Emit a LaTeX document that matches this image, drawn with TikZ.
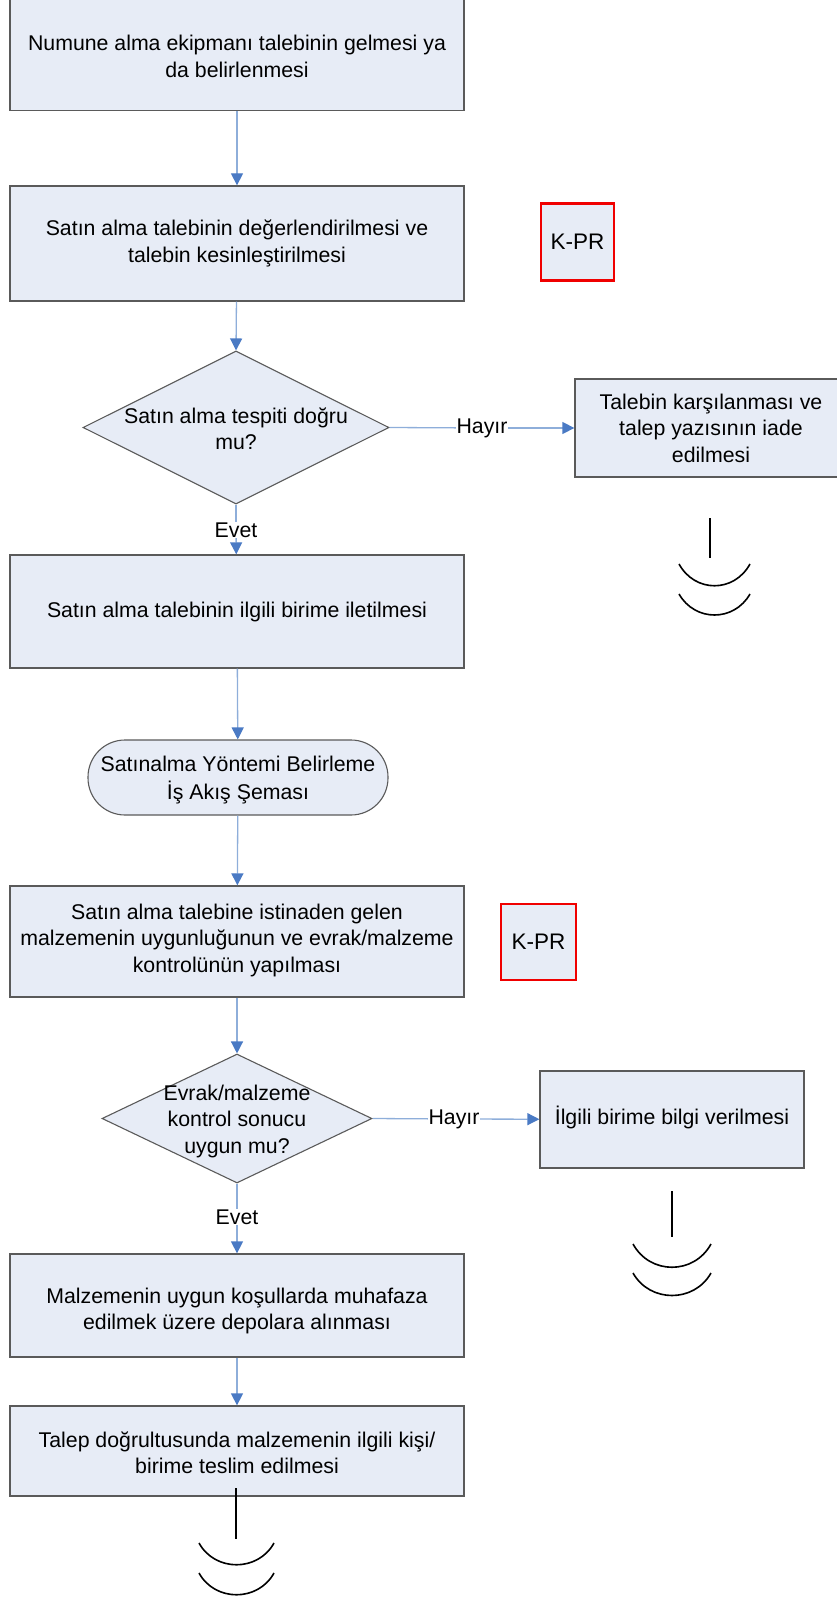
\documentclass[tikz,border=0pt]{standalone}
\usepackage{fontspec}
\setmainfont{Liberation Sans}
\usetikzlibrary{arrows.meta,shapes.geometric}
\definecolor{boxfill}{HTML}{E7ECF6}
\definecolor{boxline}{HTML}{5A5A5A}
\definecolor{linecol}{HTML}{8EAEDA}
\definecolor{arrowcol}{HTML}{4A7AC4}
\definecolor{kred}{HTML}{F00000}
\begin{document}
\begin{tikzpicture}[x=1pt,y=-1pt,
  every node/.style={font=\fontsize{21.3}{26.5}\selectfont},
  proc/.style={rectangle, draw=boxline, fill=boxfill, line width=1.3pt, align=center, inner sep=0pt},
  kpr/.style={rectangle, draw=kred, fill=boxfill, line width=2.6pt, align=center, inner sep=0pt, minimum width=73pt, minimum height=77pt, font=\fontsize{22.5}{27}\selectfont},
  dia/.style={diamond, draw=boxline, fill=boxfill, line width=1.1pt, inner sep=0pt},
  term/.style={rectangle, rounded corners=37pt, draw=boxline, fill=boxfill, line width=1.1pt, align=center, inner sep=0pt, font=\fontsize{21.3}{28.5}\selectfont},
  lab/.style={fill=white, inner sep=0.5pt},
  plain/.style={draw=linecol, line width=1.3pt},
  conn/.style={draw=linecol, line width=1.3pt, -{Triangle[length=12pt,width=12pt,color=arrowcol]}},
  gnd/.style={draw=black, line width=1.6pt}
]
\useasboundingbox (0,0) rectangle (836,1597);

% main column
\node[proc, minimum width=454pt, minimum height=113pt] (b1) at (237,54) {};
\node[align=center] (b1t) at (237,56.5) {Numune alma ekipmanı talebinin gelmesi ya\\da belirlenmesi};
\node[proc, minimum width=454pt, minimum height=115pt] (b2) at (237,243.5) {Satın alma talebinin değerlendirilmesi ve\\talebin kesinleştirilmesi};
\node[kpr] (k1) at (577.5,242) {K-PR};

\node[dia, minimum width=306pt, minimum height=153pt] (d1) at (236,427.5) {};
\node[align=center] (d1t) at (236,428.5) {Satın alma tespiti doğru\\mu?};
\node[proc, minimum width=272pt, minimum height=98pt] (b3) at (711,428) {Talebin karşılanması ve\\talep yazısının iade\\edilmesi};

\node[proc, minimum width=454pt, minimum height=113pt] (b4) at (237,611.5) {Satın alma talebinin ilgili birime iletilmesi};
\node[term, minimum width=300pt, minimum height=75pt] (t1) at (238,777.5) {};
\node[align=center, font=\fontsize{21.3}{28.5}\selectfont] (t1t) at (238,780) {Satınalma Yöntemi Belirleme\\İş Akış Şeması};

\node[proc, minimum width=454pt, minimum height=111pt] (b5) at (237,941.5) {};
\node[align=center] (b5t) at (237,940) {Satın alma talebine istinaden gelen\\malzemenin uygunluğunun ve evrak/malzeme\\kontrolünün yapılması};
\node[kpr, minimum width=75pt, minimum height=76pt] (k2) at (538.5,942) {K-PR};

\node[dia, minimum width=270pt, minimum height=129pt] (d2) at (237,1118.5) {};
\node[align=center] (d2t) at (237,1121) {Evrak/malzeme\\kontrol sonucu\\uygun mu?};
\node[proc, minimum width=264pt, minimum height=97pt] (b6) at (672,1119.5) {};
\node (b6t) at (672,1117.5) {İlgili birime bilgi verilmesi};

\node[proc, minimum width=454pt, minimum height=103pt] (b7) at (237,1305.5) {};
\node[align=center] (b7t) at (237,1311) {Malzemenin uygun koşullarda muhafaza\\edilmek üzere depolara alınması};
\node[proc, minimum width=454pt, minimum height=90pt] (b8) at (237,1451) {};
\node[align=center] (b8t) at (237,1452.5) {Talep doğrultusunda malzemenin ilgili kişi/\\birime teslim edilmesi};

% labels
\node[lab] (h1) at (482,428) {Hayır};
\node[lab] (e1) at (236,530) {Evet};
\node[lab] (h2) at (454,1119) {Hayır};
\node[lab] (e2) at (237,1217) {Evet};

% connectors
\draw[conn] (b1) -- (b2);
\draw[conn] (b2) -- (d1.north);
\draw[plain] (d1.east) -- (h1);
\draw[conn] (h1) -- (b3);
\draw[plain] (d1.south) -- (e1);
\draw[conn] (e1) -- (b4);
\draw[conn] (b4) -- (t1);
\draw[conn] (t1) -- (b5);
\draw[conn] (b5) -- (d2.north);
\draw[plain] (d2.east) -- (h2);
\draw[conn] (h2) -- (b6);
\draw[plain] (d2.south) -- (e2);
\draw[conn] (e2) -- (b7);
\draw[conn] (b7) -- (b8);

% end (ground) symbols
\draw[gnd] (710,518) -- (710,558);
\draw[gnd] (679,564) .. controls (695,593) and (734,593) .. (750,564);
\draw[gnd] (679,594) .. controls (695,622) and (734,622) .. (750,594);

\draw[gnd] (672,1191) -- (672,1237);
\draw[gnd] (633,1244) .. controls (650,1275) and (694,1275) .. (711,1244);
\draw[gnd] (633,1273) .. controls (650,1303) and (694,1303) .. (711,1273);

\draw[gnd] (236,1488) -- (236,1539);
\draw[gnd] (199,1543) .. controls (215,1572) and (258,1572) .. (274,1543);
\draw[gnd] (199,1573) .. controls (215,1602) and (258,1602) .. (274,1573);
\end{tikzpicture}
\end{document}
